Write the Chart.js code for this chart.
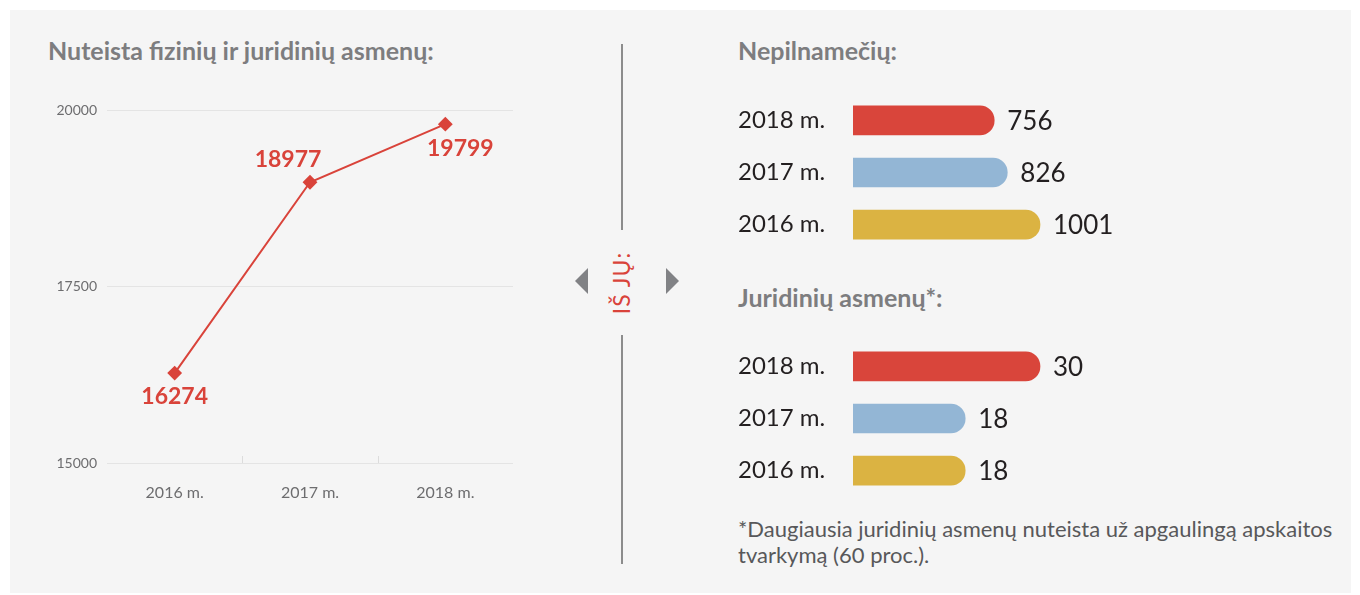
<!DOCTYPE html>
<html lang="lt">
<head>
<meta charset="utf-8">
<script src="https://cdn.jsdelivr.net/npm/chart.js@4.4.1/dist/chart.umd.min.js"></script>
<style>
  html, body { margin: 0; padding: 0; background: #ffffff; }
  body { width: 1360px; height: 595px; position: relative; overflow: hidden; font-family: Lato, "Open Sans", sans-serif; }
  .panel { position: absolute; left: 10px; top: 10px; width: 1341px; height: 583px; background: #f5f5f5; }
  .abs { position: absolute; }
  .head { font-weight: 700; color: #7d7d7f; font-size: 25px; line-height: 30px; white-space: nowrap; }
  .divider { position: absolute; left: 621px; width: 2px; background: #8c8c8c; }
  .tri-l { position: absolute; left: 575px; top: 268px; width: 0; height: 0;
           border-top: 13px solid transparent; border-bottom: 13px solid transparent; border-right: 13px solid #818285; }
  .tri-r { position: absolute; left: 666px; top: 268px; width: 0; height: 0;
           border-top: 13px solid transparent; border-bottom: 13px solid transparent; border-left: 13px solid #818285; }
  .isju { position: absolute; left: 621px; top: 283px; transform: translate(-50%, -50%) rotate(-90deg);
          color: #d9433a; font-size: 23px; white-space: nowrap; letter-spacing: 1px; }
  .note { color: #58585a; font-size: 22px; line-height: 26px; }
</style>
</head>
<body>
<div class="panel"></div>

<div class="abs head" style="left:48px; top:35px;">Nuteista fizinių ir juridinių asmenų:</div>
<div class="abs head" style="left:738px; top:35px;">Nepilnamečių:</div>
<div class="abs head" style="left:738px; top:282px;">Juridinių asmenų*:</div>

<div class="divider" style="top:44px; height:186px;"></div>
<div class="divider" style="top:335px; height:229px;"></div>
<div class="tri-l"></div>
<div class="tri-r"></div>
<div class="isju">IŠ JŲ:</div>

<div class="abs" style="left:40px; top:90px; width:490px; height:410px;"><canvas id="lineChart"></canvas></div>
<div class="abs" style="left:738px; top:80px; width:612px; height:185px;"><canvas id="minorsChart"></canvas></div>
<div class="abs" style="left:738px; top:326px; width:612px; height:185px;"><canvas id="legalChart"></canvas></div>

<div class="abs note" style="left:738px; top:516px; width:612px;">*Daugiausia juridinių asmenų nuteista už apgaulingą apskaitos<br>tvarkymą (60 proc.).</div>

<script>
// duomenys
const lineYears = ['2016 m.', '2017 m.', '2018 m.'];
const convictedTotal = [16274, 18977, 19799];
const yTicks = [15000, 17500, 20000];

const barYears = ['2018 m.', '2017 m.', '2016 m.'];
const minorsValues = [756, 826, 1001];
const legalValues = [30, 18, 18];
const barColors = ['#d9453b', '#93b6d5', '#dbb342'];

const RED = '#d9433a';

// duomenų etikečių poslinkiai (tik stilius)
const labelOffsets = [
  { dx: 0, dy: 24 },
  { dx: -22, dy: -23 },
  { dx: 15, dy: 24 }
];

// reikšmės virš / po taškais
const pointLabelPlugin = {
  id: 'pointLabels',
  afterDatasetsDraw(chart) {
    const ctx = chart.ctx;
    const meta = chart.getDatasetMeta(0);
    ctx.save();
    ctx.font = 'bold 23px Lato, sans-serif';
    ctx.fillStyle = RED;
    ctx.textAlign = 'center';
    ctx.textBaseline = 'middle';
    meta.data.forEach((pt, i) => {
      const off = labelOffsets[i] || { dx: 0, dy: -24 };
      ctx.fillText(String(chart.data.datasets[0].data[i]), pt.x + off.dx, pt.y + off.dy);
    });
    ctx.restore();
  }
};

// trumpos žymos tarp kategorijų ant x ašies
const boundaryTicksPlugin = {
  id: 'boundaryTicks',
  beforeDatasetsDraw(chart) {
    const xs = chart.scales.x;
    const ctx = chart.ctx;
    const bottom = chart.chartArea.bottom;
    ctx.save();
    ctx.strokeStyle = '#dcdcdc';
    ctx.lineWidth = 1;
    for (let i = 0; i < xs.ticks.length - 1; i++) {
      const x = Math.round((xs.getPixelForTick(i) + xs.getPixelForTick(i + 1)) / 2) + 0.5;
      ctx.beginPath();
      ctx.moveTo(x, bottom - 7);
      ctx.lineTo(x, bottom);
      ctx.stroke();
    }
    ctx.restore();
  }
};

new Chart(document.getElementById('lineChart'), {
  type: 'line',
  data: {
    labels: lineYears,
    datasets: [{
      data: convictedTotal,
      borderColor: RED,
      backgroundColor: RED,
      borderWidth: 2,
      pointStyle: 'rectRot',
      pointRadius: 6,
      pointBackgroundColor: RED,
      pointBorderColor: RED,
      tension: 0,
      clip: false
    }]
  },
  plugins: [boundaryTicksPlugin, pointLabelPlugin],
  options: {
    responsive: true,
    maintainAspectRatio: false,
    animation: false,
    layout: { padding: { top: 20, right: 17, left: 0, bottom: 0 } },
    plugins: { legend: { display: false }, tooltip: { enabled: false } },
    scales: {
      x: {
        offset: true,
        afterFit(scale) { scale.height = 37; },
        grid: { display: false, drawTicks: false },
        border: { display: false },
        ticks: { color: '#6d6d6f', font: { family: 'Lato', size: 16 }, padding: 20, maxRotation: 0 }
      },
      y: {
        min: 15000,
        max: 20000,
        afterFit(scale) { scale.width = 67; },
        afterBuildTicks(scale) { scale.ticks = yTicks.map(v => ({ value: v })); },
        border: { display: false },
        grid: { color: '#e4e4e4', drawTicks: false },
        ticks: {
          color: '#6d6d6f',
          font: { family: 'Lato', size: 14 },
          padding: 10,
          callback: (v) => String(v)
        }
      }
    }
  }
});

// horizontalios juostos
const BAR_MAX_PX = 187;
const BAR_LABEL_W = 115;

const barValuePlugin = {
  id: 'barValues',
  afterDatasetsDraw(chart) {
    const ctx = chart.ctx;
    const meta = chart.getDatasetMeta(0);
    ctx.save();
    ctx.font = '26px Lato, sans-serif';
    ctx.fillStyle = '#231f20';
    ctx.textAlign = 'left';
    ctx.textBaseline = 'middle';
    meta.data.forEach((bar, i) => {
      ctx.fillText(String(chart.data.datasets[0].data[i]), bar.x + 13, bar.y + 1);
    });
    ctx.restore();
  }
};

function barChart(id, values) {
  const canvas = document.getElementById(id);
  const plotW = canvas.parentNode.clientWidth - BAR_LABEL_W;
  const xMax = Math.max(...values) * plotW / BAR_MAX_PX;
  return new Chart(canvas, {
    type: 'bar',
    data: {
      labels: barYears,
      datasets: [{
        data: values,
        backgroundColor: barColors,
        barThickness: 29,
        borderRadius: 15,
        borderSkipped: 'start'
      }]
    },
    plugins: [barValuePlugin],
    options: {
      indexAxis: 'y',
      responsive: true,
      maintainAspectRatio: false,
      animation: false,
      layout: { padding: 0 },
      plugins: { legend: { display: false }, tooltip: { enabled: false } },
      scales: {
        x: { display: false, min: 0, max: xMax },
        y: {
          afterFit(scale) { scale.width = BAR_LABEL_W; },
          grid: { display: false },
          border: { display: false },
          ticks: { crossAlign: 'far', color: '#231f20', font: { family: 'Lato', size: 24 }, padding: 0 }
        }
      }
    }
  });
}

barChart('minorsChart', minorsValues);
barChart('legalChart', legalValues);
</script>
</body>
</html>
